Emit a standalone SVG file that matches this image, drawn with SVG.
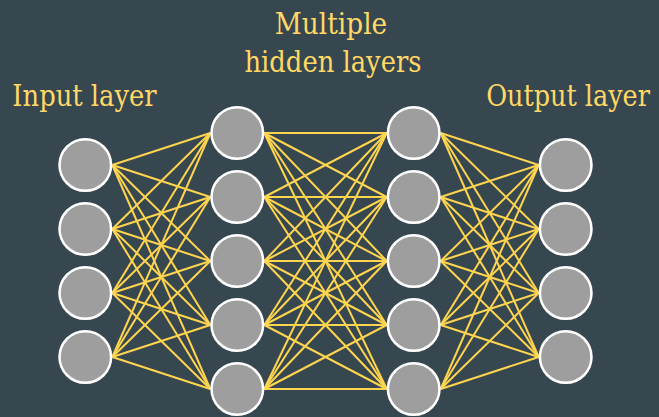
<svg xmlns="http://www.w3.org/2000/svg" width="659" height="417" viewBox="0 0 659 417">
  <style>
    .bg { fill: #37474f; }
    .node { fill: #9e9e9e; stroke: #ffffff; stroke-width: 2.5; }
    .edge { stroke: #ffd54f; stroke-width: 2; fill: none; }
    .label { fill: #ffd866; font-family: "DejaVu Serif", "Liberation Serif", serif; font-size: 29px; text-anchor: middle; }
  </style>
  <rect class="bg" x="0" y="0" width="659" height="417"/>

  <!-- layer titles, narrowed horizontally -->
  <text class="label" transform="translate(84.5,106) scale(0.89,1)">Input layer</text>
  <text class="label" transform="translate(331,34) scale(0.91,1)">Multiple</text>
  <text class="label" transform="translate(333,72) scale(0.89,1)">hidden layers</text>
  <text class="label" transform="translate(568,106) scale(0.88,1)">Output layer</text>

  <g id="connectors">
    <!-- input → hidden 1 -->
    <g id="edges-in-h1">
      <line class="edge" x1="112.3" y1="165" x2="210.3" y2="133"/>
      <line class="edge" x1="112.3" y1="165" x2="210.3" y2="197"/>
      <line class="edge" x1="112.3" y1="165" x2="210.3" y2="261"/>
      <line class="edge" x1="112.3" y1="165" x2="210.3" y2="325"/>
      <line class="edge" x1="112.3" y1="165" x2="210.3" y2="389"/>
      <line class="edge" x1="112.3" y1="229" x2="210.3" y2="133"/>
      <line class="edge" x1="112.3" y1="229" x2="210.3" y2="197"/>
      <line class="edge" x1="112.3" y1="229" x2="210.3" y2="261"/>
      <line class="edge" x1="112.3" y1="229" x2="210.3" y2="325"/>
      <line class="edge" x1="112.3" y1="229" x2="210.3" y2="389"/>
      <line class="edge" x1="112.3" y1="293" x2="210.3" y2="133"/>
      <line class="edge" x1="112.3" y1="293" x2="210.3" y2="197"/>
      <line class="edge" x1="112.3" y1="293" x2="210.3" y2="261"/>
      <line class="edge" x1="112.3" y1="293" x2="210.3" y2="325"/>
      <line class="edge" x1="112.3" y1="293" x2="210.3" y2="389"/>
      <line class="edge" x1="112.3" y1="357" x2="210.3" y2="133"/>
      <line class="edge" x1="112.3" y1="357" x2="210.3" y2="197"/>
      <line class="edge" x1="112.3" y1="357" x2="210.3" y2="261"/>
      <line class="edge" x1="112.3" y1="357" x2="210.3" y2="325"/>
      <line class="edge" x1="112.3" y1="357" x2="210.3" y2="389"/>
    </g>
    <!-- hidden 1 → hidden 2 -->
    <g id="edges-h1-h2">
      <line class="edge" x1="264.3" y1="133" x2="386.7" y2="133"/>
      <line class="edge" x1="264.3" y1="133" x2="386.7" y2="197"/>
      <line class="edge" x1="264.3" y1="133" x2="386.7" y2="261"/>
      <line class="edge" x1="264.3" y1="133" x2="386.7" y2="325"/>
      <line class="edge" x1="264.3" y1="133" x2="386.7" y2="389"/>
      <line class="edge" x1="264.3" y1="197" x2="386.7" y2="133"/>
      <line class="edge" x1="264.3" y1="197" x2="386.7" y2="197"/>
      <line class="edge" x1="264.3" y1="197" x2="386.7" y2="261"/>
      <line class="edge" x1="264.3" y1="197" x2="386.7" y2="325"/>
      <line class="edge" x1="264.3" y1="197" x2="386.7" y2="389"/>
      <line class="edge" x1="264.3" y1="261" x2="386.7" y2="133"/>
      <line class="edge" x1="264.3" y1="261" x2="386.7" y2="197"/>
      <line class="edge" x1="264.3" y1="261" x2="386.7" y2="261"/>
      <line class="edge" x1="264.3" y1="261" x2="386.7" y2="325"/>
      <line class="edge" x1="264.3" y1="261" x2="386.7" y2="389"/>
      <line class="edge" x1="264.3" y1="325" x2="386.7" y2="133"/>
      <line class="edge" x1="264.3" y1="325" x2="386.7" y2="197"/>
      <line class="edge" x1="264.3" y1="325" x2="386.7" y2="261"/>
      <line class="edge" x1="264.3" y1="325" x2="386.7" y2="325"/>
      <line class="edge" x1="264.3" y1="325" x2="386.7" y2="389"/>
      <line class="edge" x1="264.3" y1="389" x2="386.7" y2="133"/>
      <line class="edge" x1="264.3" y1="389" x2="386.7" y2="197"/>
      <line class="edge" x1="264.3" y1="389" x2="386.7" y2="261"/>
      <line class="edge" x1="264.3" y1="389" x2="386.7" y2="325"/>
      <line class="edge" x1="264.3" y1="389" x2="386.7" y2="389"/>
    </g>
    <!-- hidden 2 → output -->
    <g id="edges-h2-out">
      <line class="edge" x1="440.7" y1="133" x2="538.7" y2="165"/>
      <line class="edge" x1="440.7" y1="133" x2="538.7" y2="229"/>
      <line class="edge" x1="440.7" y1="133" x2="538.7" y2="293"/>
      <line class="edge" x1="440.7" y1="133" x2="538.7" y2="357"/>
      <line class="edge" x1="440.7" y1="197" x2="538.7" y2="165"/>
      <line class="edge" x1="440.7" y1="197" x2="538.7" y2="229"/>
      <line class="edge" x1="440.7" y1="197" x2="538.7" y2="293"/>
      <line class="edge" x1="440.7" y1="197" x2="538.7" y2="357"/>
      <line class="edge" x1="440.7" y1="261" x2="538.7" y2="165"/>
      <line class="edge" x1="440.7" y1="261" x2="538.7" y2="229"/>
      <line class="edge" x1="440.7" y1="261" x2="538.7" y2="293"/>
      <line class="edge" x1="440.7" y1="261" x2="538.7" y2="357"/>
      <line class="edge" x1="440.7" y1="325" x2="538.7" y2="165"/>
      <line class="edge" x1="440.7" y1="325" x2="538.7" y2="229"/>
      <line class="edge" x1="440.7" y1="325" x2="538.7" y2="293"/>
      <line class="edge" x1="440.7" y1="325" x2="538.7" y2="357"/>
      <line class="edge" x1="440.7" y1="389" x2="538.7" y2="165"/>
      <line class="edge" x1="440.7" y1="389" x2="538.7" y2="229"/>
      <line class="edge" x1="440.7" y1="389" x2="538.7" y2="293"/>
      <line class="edge" x1="440.7" y1="389" x2="538.7" y2="357"/>
    </g>
  </g>

  <!-- input layer -->
  <g id="in1"><circle class="node" cx="85.3" cy="165" r="25.8"/></g>
  <g id="in2"><circle class="node" cx="85.3" cy="229" r="25.8"/></g>
  <g id="in3"><circle class="node" cx="85.3" cy="293" r="25.8"/></g>
  <g id="in4"><circle class="node" cx="85.3" cy="357" r="25.8"/></g>

  <!-- hidden layer 1 -->
  <g id="h1a"><circle class="node" cx="237.3" cy="133" r="25.8"/></g>
  <g id="h1b"><circle class="node" cx="237.3" cy="197" r="25.8"/></g>
  <g id="h1c"><circle class="node" cx="237.3" cy="261" r="25.8"/></g>
  <g id="h1d"><circle class="node" cx="237.3" cy="325" r="25.8"/></g>
  <g id="h1e"><circle class="node" cx="237.3" cy="389" r="25.8"/></g>

  <!-- hidden layer 2 -->
  <g id="h2a"><circle class="node" cx="413.7" cy="133" r="25.8"/></g>
  <g id="h2b"><circle class="node" cx="413.7" cy="197" r="25.8"/></g>
  <g id="h2c"><circle class="node" cx="413.7" cy="261" r="25.8"/></g>
  <g id="h2d"><circle class="node" cx="413.7" cy="325" r="25.8"/></g>
  <g id="h2e"><circle class="node" cx="413.7" cy="389" r="25.8"/></g>

  <!-- output layer -->
  <g id="out1"><circle class="node" cx="565.7" cy="165" r="25.8"/></g>
  <g id="out2"><circle class="node" cx="565.7" cy="229" r="25.8"/></g>
  <g id="out3"><circle class="node" cx="565.7" cy="293" r="25.8"/></g>
  <g id="out4"><circle class="node" cx="565.7" cy="357" r="25.8"/></g>
</svg>
